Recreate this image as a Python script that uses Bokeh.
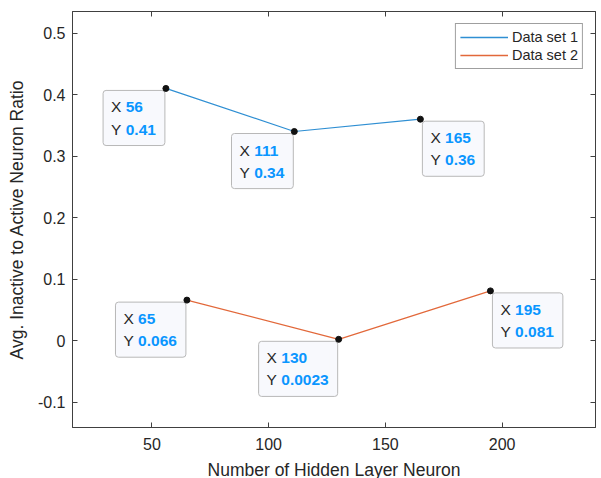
from bokeh.plotting import figure
from bokeh.models import LinearAxis, Range1d, FixedTicker, Legend, LegendItem
from bokeh.embed import file_html
from bokeh.resources import INLINE
from bokeh.core.properties import value

# Measured ratios for the two data sets
neurons_1 = [56, 111, 165]
ratio_1 = [0.41, 0.34, 0.36]
neurons_2 = [65, 130, 195]
ratio_2 = [0.066, 0.0023, 0.081]

series_names = ["Data set 1", "Data set 2"]

x_ticks = [50, 100, 150, 200]
y_ticks = [-0.1, 0, 0.1, 0.2, 0.3, 0.4, 0.5]
y_tick_labels = ["-0.1", "0", "0.1", "0.2", "0.3", "0.4", "0.5"]

# which corner of each data tip box sits at its point
tip_corner_1 = ["top_right", "top_right", "top_left"]
tip_corner_2 = ["top_right", "top_right", "top_left"]

FONT = "Liberation Sans"
AX = "#404040"
BLUE = "#2f8fd3"
ORANGE = "#e2683a"
TIP_BG = "#f8f9fd"
TIP_VAL = "#0a96ff"

p = figure(
    frame_width=523, frame_height=416,
    min_border_left=72, min_border_right=6, min_border_top=11, min_border_bottom=51,
    x_range=Range1d(16, 240), y_range=Range1d(-0.141, 0.535),
    output_backend="svg", toolbar_location=None,
    background_fill_color="white", border_fill_color="white",
)
p.xgrid.visible = False
p.ygrid.visible = False
p.outline_line_color = AX

def style_axis(ax, ticks, show_labels):
    ax.ticker = FixedTicker(ticks=ticks)
    ax.axis_line_color = AX
    ax.major_tick_line_color = AX
    ax.major_tick_in = 5
    ax.major_tick_out = 0
    ax.minor_tick_line_color = None
    ax.major_label_text_font = FONT
    ax.axis_label_text_font = FONT
    ax.axis_label_text_font_style = "normal"
    ax.axis_label_text_color = "#262626"
    if show_labels:
        ax.major_label_text_color = "#262626"
        ax.major_label_text_font_size = "16px"
    else:
        # mirrored box edge: ticks only
        ax.major_label_text_color = None
        ax.major_label_text_font_size = "1px"
        ax.major_label_standoff = 0

style_axis(p.xaxis[0], x_ticks, True)
style_axis(p.yaxis[0], y_ticks, True)
p.yaxis[0].major_label_overrides = {t: s for t, s in zip(y_ticks, y_tick_labels)}
p.xaxis[0].axis_label = "Number of Hidden Layer Neuron"
p.yaxis[0].axis_label = "Avg. Inactive to Active Neuron Ratio"
p.xaxis[0].axis_label_text_font_size = "17.5px"
p.yaxis[0].axis_label_text_font_size = "17.5px"
p.xaxis[0].major_label_standoff = 10
p.yaxis[0].major_label_standoff = 7
p.xaxis[0].axis_label_standoff = 7
p.yaxis[0].axis_label_standoff = 8

top_ax = LinearAxis()
right_ax = LinearAxis()
style_axis(top_ax, x_ticks, False)
style_axis(right_ax, y_ticks, False)
p.add_layout(top_ax, "above")
p.add_layout(right_ax, "right")

r1 = p.line(neurons_1, ratio_1, line_color=BLUE, line_width=1.2)
r2 = p.line(neurons_2, ratio_2, line_color=ORANGE, line_width=1.2)

# swatch-only renderers for the legend (a single NaN point draws nothing in the frame)
nan = float("nan")
k1 = p.line([nan], [nan], line_color=BLUE, line_width=1.6)
k2 = p.line([nan], [nan], line_color=ORANGE, line_width=1.6)

PAD = dict(left=8, right=9, top=8, bottom=8)
FS = 15.5
LH = 1.3
X_PREFIX_W = FS * (0.667 + 0.278)  # width of "X " in an Arial-metric font

def add_tips(xs, ys, corners):
    for xv, yv, corner in zip(xs, ys, corners):
        dx = -1 if corner == "top_right" else 2
        dy = 2
        p.text(
            x=[xv], y=[yv], text=[f"X {xv}\nY {yv}"],
            anchor=corner, x_offset=dx, y_offset=dy,
            text_align="left", text_baseline="top",
            text_font=value(FONT), text_font_size=f"{FS}px",
            text_color="#262626", text_line_height=LH,
            background_fill_color=TIP_BG, border_line_color="#b8b8b8",
            border_line_width=1, border_radius=3, padding=PAD,
        )
        if corner == "top_right":
            vdx = dx - PAD["right"] + 1
        else:
            vdx = dx + PAD["left"] + X_PREFIX_W - 1
        p.text(
            x=[xv], y=[yv], text=[f"{xv}\n{yv}"],
            anchor=corner, x_offset=vdx, y_offset=dy + PAD["top"] - 1,
            text_align="left", text_baseline="top",
            text_font=value(FONT), text_font_size=f"{FS}px",
            text_font_style="bold", text_color=TIP_VAL, text_line_height=LH,
            background_fill_color=TIP_BG, padding=1,
        )
    p.scatter(xs, ys, size=6, fill_color="#111111", line_color="#111111")

add_tips(neurons_1, ratio_1, tip_corner_1)
add_tips(neurons_2, ratio_2, tip_corner_2)

legend = Legend(
    items=[LegendItem(label=series_names[0], renderers=[k1]),
           LegendItem(label=series_names[1], renderers=[k2])],
    location="top_right", margin=12, padding=4, spacing=0,
    label_height=18, glyph_height=18, glyph_width=48, label_standoff=4,
    label_text_font=FONT, label_text_font_size="14.5px", label_text_color="#262626",
    border_line_color="#404040", border_line_width=1, background_fill_color="white",
)
p.add_layout(legend, "center")

open("out.html", "w").write(file_html(p, INLINE))
